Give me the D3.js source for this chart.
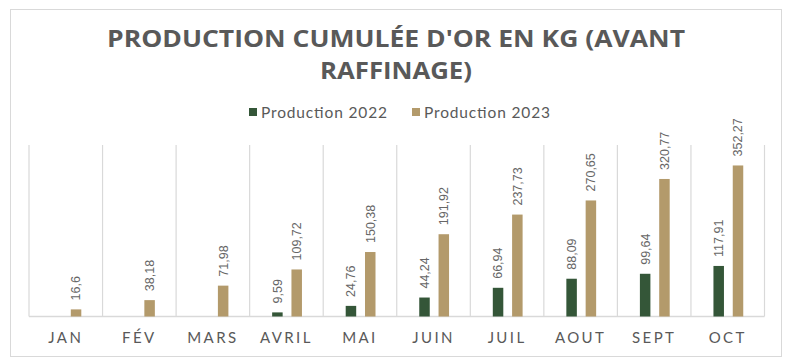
<!DOCTYPE html>
<html><head><meta charset="utf-8">
<script src="https://cdn.jsdelivr.net/npm/d3@7"></script>
<style>body{margin:0;background:#fff}svg{display:block}</style>
</head><body><div id="c"></div>
<script>
const months = ["JAN","FÉV","MARS","AVRIL","MAI","JUIN","JUIL","AOUT","SEPT","OCT"];
const prod2022 = [null,null,null,9.59,24.76,44.24,66.94,88.09,99.64,117.91];
const prod2023 = [16.6,38.18,71.98,109.72,150.38,191.92,237.73,270.65,320.77,352.27];
const seriesNames = ["Production 2022","Production 2023"];
const colors = ["#345638","#b39a6b"];
const titleLines = ["PRODUCTION CUMULÉE D'OR EN KG (AVANT","RAFFINAGE)"];

const W=792,H=360;
const svg=d3.select("#c").append("svg").attr("width",W).attr("height",H);
svg.append("rect").attr("x",10.5).attr("y",9.5).attr("width",771).attr("height",347)
  .attr("fill","#fff").attr("stroke","#d9d9d9");

const x=d3.scaleBand().domain(months).range([29,764.5]).paddingInner(0).paddingOuter(0);
const y=d3.scaleLinear().domain([0,400]).range([316.5,145]);

const bounds=months.map(m=>x(m)).concat([x(months[months.length-1])+x.bandwidth()]);
svg.append("g").selectAll("line").data(bounds).join("line")
  .attr("x1",d=>d).attr("x2",d=>d).attr("y1",y(400)).attr("y2",y(0))
  .attr("stroke","#d9d9d9").attr("stroke-width",1.2);
svg.append("line").attr("x1",29).attr("x2",764.5).attr("y1",y(0)).attr("y2",y(0))
  .attr("stroke","#d9d9d9").attr("stroke-width",1.5);

const barW=10.5;
const offs=[22.5,41.8];
const fmt=v=>String(v).replace(".",",");
[prod2022,prod2023].forEach((arr,si)=>{
  const g=svg.append("g");
  const data=arr.map((v,i)=>({m:months[i],v})).filter(d=>d.v!=null);
  g.selectAll("rect").data(data).join("rect")
    .attr("x",d=>x(d.m)+offs[si]).attr("width",barW)
    .attr("y",d=>y(d.v)).attr("height",d=>y(0)-y(d.v)).attr("fill",colors[si]);
  g.selectAll("text").data(data).join("text")
    .attr("transform",d=>`translate(${x(d.m)+offs[si]+barW/2},${y(d.v)-9}) rotate(-90)`)
    .attr("dy","0.35em").attr("text-anchor","start")
    .attr("font-family","Liberation Sans").attr("font-size",12.5).attr("fill","#666")
    .text(d=>fmt(d.v));
});

const xAxis=d3.axisBottom(x).tickSize(0).tickPadding(0);
const ax=svg.append("g").attr("transform",`translate(0,${y(0)})`).call(xAxis);
ax.select(".domain").remove();
ax.selectAll("text").attr("y",26).attr("dy",0).attr("font-family","Lato").attr("font-size",15)
  .attr("letter-spacing","2.4px").attr("fill","#595959");

svg.append("g").selectAll("text").data(titleLines).join("text")
  .attr("x",396).attr("y",(d,i)=>47+i*32).attr("text-anchor","middle")
  .attr("font-family","Open Sans").attr("font-weight",700).attr("font-size",24)
  .attr("fill","#595959")
  .attr("textLength",(d,i)=>i===0?578:152).attr("lengthAdjust","spacingAndGlyphs")
  .text(d=>d);

const leg=svg.append("g");
const lx=[249,412];
seriesNames.forEach((n,i)=>{
  leg.append("rect").attr("x",lx[i]).attr("y",108).attr("width",8).attr("height",8).attr("fill",colors[i]);
  leg.append("text").attr("x",lx[i]+12).attr("y",118).attr("font-family","Lato").attr("font-size",15.5)
    .attr("fill","#595959").attr("textLength",126).attr("lengthAdjust","spacing").text(n);
});
</script></body></html>
